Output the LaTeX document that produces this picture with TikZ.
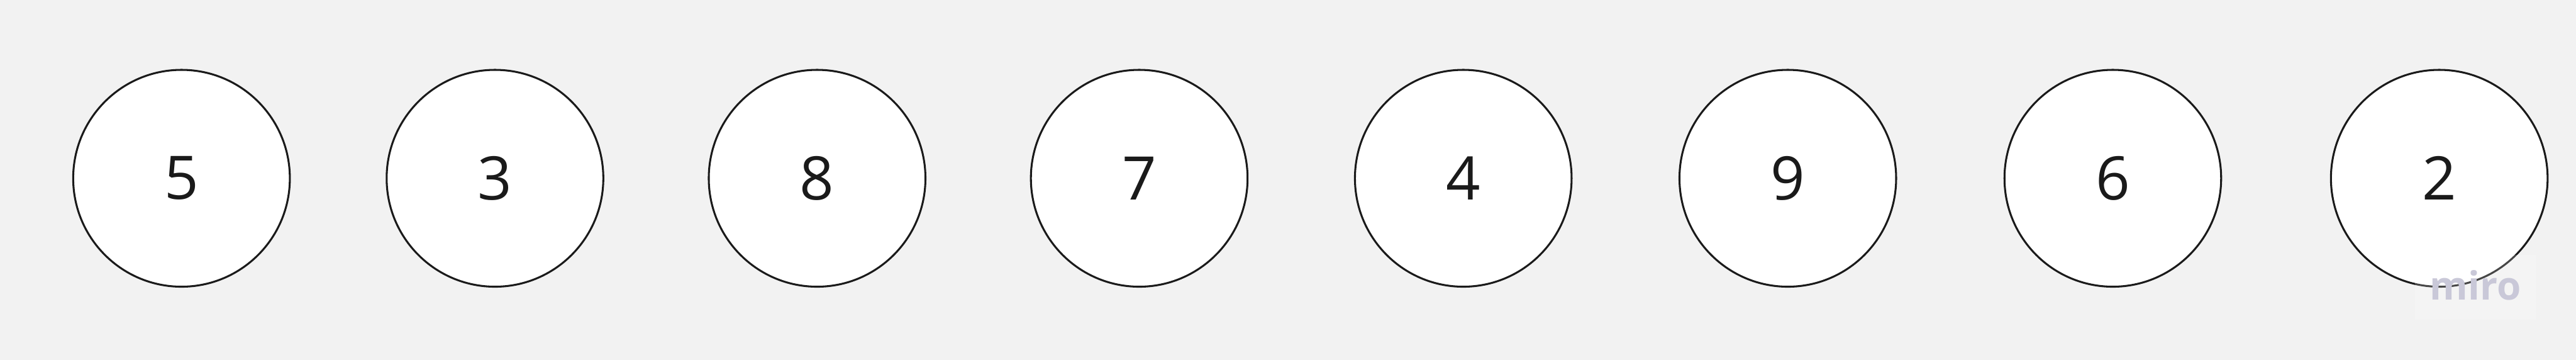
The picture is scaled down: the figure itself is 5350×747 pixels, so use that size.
\documentclass[tikz,border=0pt]{standalone}
\usepackage{fontspec}
\setmainfont{Open Sans}
\usepackage{tikz}
\usetikzlibrary{positioning}
\definecolor{boardgray}{RGB}{242,242,242}
\definecolor{inkblack}{RGB}{26,26,26}
\definecolor{miromark}{RGB}{201,200,216}
\tikzset{
  numnode/.style={circle,draw=inkblack,fill=white,line width=0.4mm,minimum size=45mm,
    inner sep=0pt,text=inkblack,font=\fontsize{35.5}{40}\selectfont},
  markbox/.style={fill=white,fill opacity=0.2,minimum width=25.1mm,minimum height=13.4mm,inner sep=0pt},
  marktext/.style={text=miromark,font=\fontsize{23}{26}\selectfont\bfseries,inner sep=0pt}
}
\begin{document}
\begin{tikzpicture}[x=0.1mm,y=0.1mm]
  \fill[boardgray] (0,0) rectangle (5350,747);
  \useasboundingbox (0,0) rectangle (5350,747);

  \node[numnode] (n5) at (377,377) {5};
  \node[numnode] (n3) at (1028,377) {3};
  \node[numnode] (n8) at (1697,377) {8};
  \node[numnode] (n7) at (2366,377) {7};
  \node[numnode] (n4) at (3039,377) {4};
  \node[numnode] (n9) at (3713,377) {9};
  \node[numnode] (n6) at (4388,377) {6};
  \node[numnode] (n2) at (5066,377) {2};

  \node[markbox] (mbox) at (5141,151) {};
  \node[marktext,anchor=base] (mtext) at (5141,125) {miro};
\end{tikzpicture}
\end{document}
